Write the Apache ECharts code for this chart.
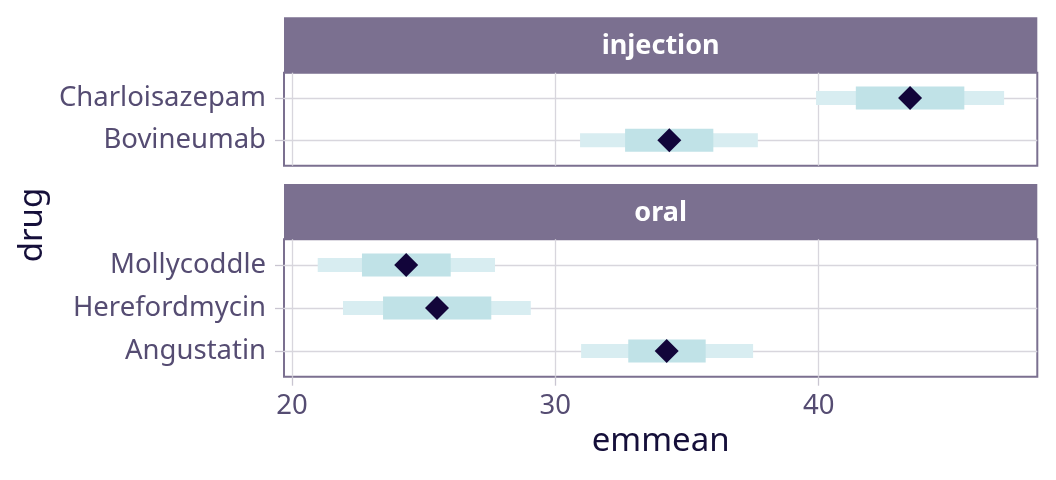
<!DOCTYPE html>
<html>
<head>
<meta charset="utf-8">
<script src="https://cdn.jsdelivr.net/npm/echarts@6/dist/echarts.min.js"></script>
<style>
html,body{margin:0;padding:0;background:#fff;}
#chart{width:1056px;height:480px;}
</style>
</head>
<body>
<div id="chart"></div>
<script>
// ---- data (categories listed bottom-to-top within each panel) ----
const panels = ['injection', 'oral'];
const injDrugs = ['Bovineumab', 'Charloisazepam'];
const injMean = [34.33, 43.47];
const injOuterLo = [30.94, 39.90];
const injOuterHi = [37.69, 47.04];
const injInnerLo = [32.65, 41.41];
const injInnerHi = [36.00, 45.53];

const oralDrugs = ['Angustatin', 'Herefordmycin', 'Mollycoddle'];
const oralMean = [34.23, 25.51, 24.34];
const oralOuterLo = [30.98, 21.94, 20.98];
const oralOuterHi = [37.51, 29.07, 27.71];
const oralInnerLo = [32.77, 23.46, 22.66];
const oralInnerHi = [35.71, 27.57, 26.03];

const xTicks = [20, 30, 40];

// ---- styles ----
const FONT = 'Noto Sans';
const labelColor = '#554c72';
const titleColor = '#150f3a';
const stripColor = '#7b7090';
const gridColor = '#d8d6dd';
const tickColor = '#c9c5d1';
const outerColor = '#d8edf1';
const innerColor = '#c0e2e7';
const pointColor = '#12053a';

const chart = echarts.init(document.getElementById('chart'), null, {renderer: 'canvas'});

function intervalSeries(gi, lo, hi, color, h) {
  return {
    type: 'custom',
    xAxisIndex: gi, yAxisIndex: gi,
    encode: {x: [0, 1], y: 2},
    data: lo.map((v, i) => [v, hi[i], i + 1]),
    renderItem: function (params, api) {
      const p1 = api.coord([api.value(0), api.value(2)]);
      const p2 = api.coord([api.value(1), api.value(2)]);
      return {
        type: 'rect',
        shape: {x: p1[0], y: p1[1] - h / 2, width: p2[0] - p1[0], height: h},
        style: {fill: color}
      };
    },
    silent: true
  };
}
function pointSeries(gi, mean) {
  return {
    type: 'scatter',
    xAxisIndex: gi, yAxisIndex: gi,
    symbol: 'diamond', symbolSize: 24,
    itemStyle: {color: pointColor, opacity: 1},
    data: mean.map((v, i) => [v, i + 1]),
    z: 5, silent: true
  };
}
function yAxisFor(gi, names) {
  const vals = names.map((_, i) => i + 1);
  return {
    type: 'value', gridIndex: gi,
    min: 0.4, max: names.length + 0.6,
    axisLine: {show: false},
    axisTick: {show: true, length: 9, customValues: vals, lineStyle: {color: tickColor, width: 1.3}},
    axisLabel: {
      customValues: vals, margin: 18,
      formatter: v => names[Math.round(v) - 1] || '',
      fontFamily: FONT, fontSize: 27.5, color: labelColor
    },
    splitLine: {show: true, lineStyle: {color: gridColor, width: 1.3}}
  };
}
function xAxisFor(gi, bottom) {
  const ax = {
    type: 'value', gridIndex: gi,
    min: 19.7, max: 48.3,
    axisLine: {show: false},
    axisTick: {show: bottom, length: 9, customValues: xTicks, lineStyle: {color: tickColor, width: 1.3}},
    axisLabel: {show: bottom, customValues: xTicks, margin: 15, fontFamily: FONT, fontSize: 27.5, color: labelColor},
    splitLine: {show: true, lineStyle: {color: gridColor, width: 1.3}}
  };
  if (bottom) {
    ax.name = 'emmean';
    ax.nameLocation = 'middle';
    ax.nameGap = 48;
    ax.nameTextStyle = {fontFamily: FONT, fontSize: 33, color: titleColor};
  }
  return ax;
}

const gridLeft = 284, gridRight = 18.7;
const option = {
  backgroundColor: '#ffffff',
  animation: false,
  grid: [
    {left: gridLeft, right: gridRight, top: 72.7, height: 93, show: true, borderColor: stripColor, borderWidth: 2, backgroundColor: 'transparent'},
    {left: gridLeft, right: gridRight, top: 239.3, height: 137.4, show: true, borderColor: stripColor, borderWidth: 2, backgroundColor: 'transparent'}
  ],
  xAxis: [xAxisFor(0, false), xAxisFor(1, true)],
  yAxis: [yAxisFor(0, injDrugs), yAxisFor(1, oralDrugs)],
  graphic: [
    {type: 'rect', left: gridLeft, top: 17.3, shape: {width: 1056 - gridLeft - gridRight, height: 55.4}, style: {fill: stripColor}},
    {type: 'text', x: (gridLeft + 1056 - gridRight) / 2, y: 46.5, style: {text: panels[0], fill: '#ffffff', font: 'bold 27px "Noto Sans"', textAlign: 'center', textVerticalAlign: 'middle'}},
    {type: 'rect', left: gridLeft, top: 184, shape: {width: 1056 - gridLeft - gridRight, height: 55.3}, style: {fill: stripColor}},
    {type: 'text', x: (gridLeft + 1056 - gridRight) / 2, y: 213.2, style: {text: panels[1], fill: '#ffffff', font: 'bold 27px "Noto Sans"', textAlign: 'center', textVerticalAlign: 'middle'}},
    {type: 'text', x: 33, y: 225, rotation: Math.PI / 2, style: {text: 'drug', fill: titleColor, font: '33px "Noto Sans"', textAlign: 'center', textVerticalAlign: 'middle'}}
  ],
  series: [
    intervalSeries(0, injOuterLo, injOuterHi, outerColor, 14),
    intervalSeries(0, injInnerLo, injInnerHi, innerColor, 23),
    pointSeries(0, injMean),
    intervalSeries(1, oralOuterLo, oralOuterHi, outerColor, 14),
    intervalSeries(1, oralInnerLo, oralInnerHi, innerColor, 23),
    pointSeries(1, oralMean)
  ]
};
chart.setOption(option);
</script>
</body>
</html>
